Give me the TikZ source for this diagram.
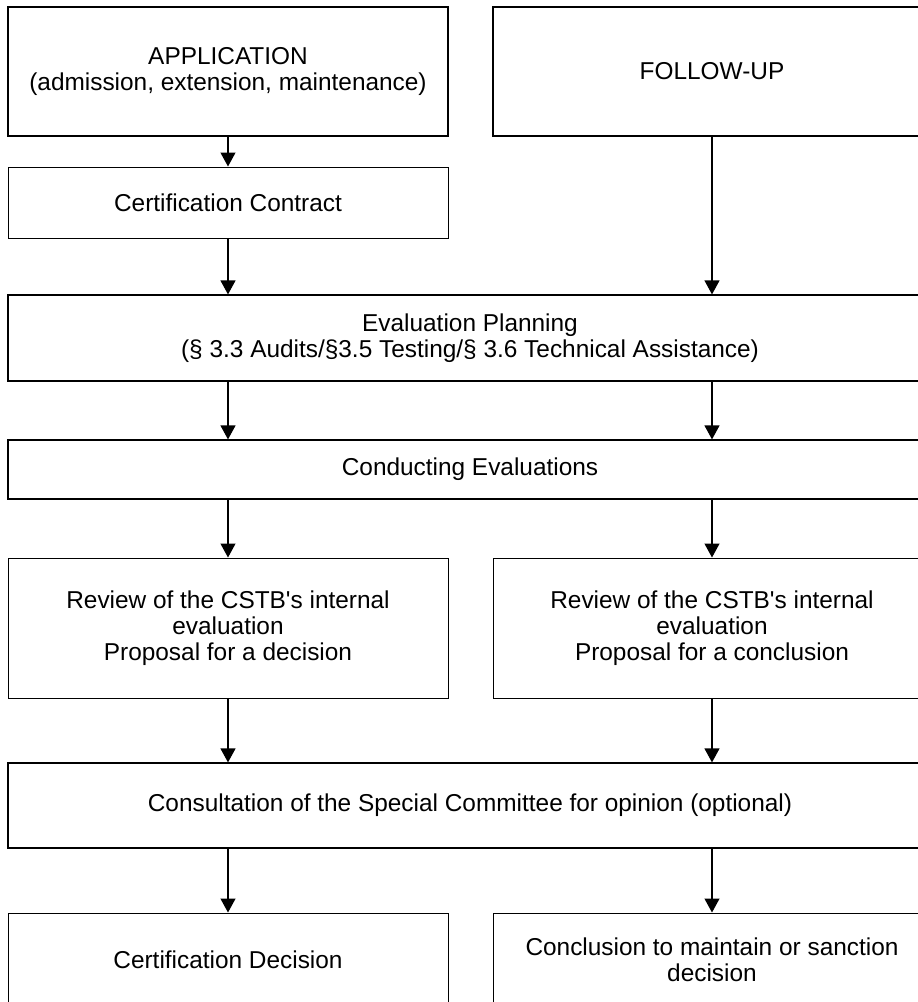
\documentclass[tikz,border=0pt]{standalone}
\usepackage{fontspec}
\setmainfont{Liberation Sans}
\usetikzlibrary{arrows.meta}
\tikzset{
  box/.style={draw, line width=1.2pt, inner sep=0pt, align=center, anchor=center,
    font=\fontsize{24.4}{26}\selectfont},
  thinbox/.style={box, line width=1pt},
  arr/.style={line width=1.2pt, -{Triangle[width=15pt,length=14pt]}}
}
\begin{document}
\begin{tikzpicture}[x=1pt,y=-1pt]
\useasboundingbox (0,0) rectangle (918,1002);
\clip (0,0) rectangle (918,1002);
\fill[white] (0,0) rectangle (918,1002);
\coordinate (L) at (228,0);
\coordinate (R) at (712,0);
\node[box, minimum width=440pt, minimum height=129pt] (app) at (228,71.5) {APPLICATION\\(admission, extension, maintenance)};
\node[box, minimum width=438pt, minimum height=129pt] (fu) at (712,71.5) {FOLLOW-UP};
\node[thinbox, minimum width=440pt, minimum height=71pt] (cc) at (228,202.5) {Certification Contract};
\node[box, minimum width=924pt, minimum height=86pt] (ep) at (470,338) {Evaluation Planning\\(§ 3.3 Audits/§3.5 Testing/§ 3.6 Technical Assistance)};
\node[box, minimum width=924pt, minimum height=59pt] (ce) at (470,469.5) {Conducting Evaluations};
\node[thinbox, minimum width=440pt, minimum height=140pt] (rl) at (228,628) {Review of the CSTB\textquotesingle s internal\\evaluation\\Proposal for a decision};
\node[thinbox, minimum width=438pt, minimum height=140pt] (rr) at (712,628) {Review of the CSTB\textquotesingle s internal\\evaluation\\Proposal for a conclusion};
\node[box, minimum width=924pt, minimum height=85pt] (cs) at (470,805.5) {Consultation of the Special Committee for opinion (optional)};
\node[thinbox, minimum width=440pt, minimum height=94pt] (dl) at (228,960) {Certification Decision};
\node[thinbox, minimum width=438pt, minimum height=94pt] (dr) at (712,960) {Conclusion to maintain or sanction\\decision};
\draw[arr] (app.south) -- (cc.north);
\draw[arr] (cc.south) -- (ep.north -| L);
\draw[arr] (fu.south) -- (ep.north -| R);
\draw[arr] (ep.south -| L) -- (ce.north -| L);
\draw[arr] (ep.south -| R) -- (ce.north -| R);
\draw[arr] (ce.south -| L) -- (rl.north);
\draw[arr] (ce.south -| R) -- (rr.north);
\draw[arr] (rl.south) -- (cs.north -| L);
\draw[arr] (rr.south) -- (cs.north -| R);
\draw[arr] (cs.south -| L) -- (dl.north);
\draw[arr] (cs.south -| R) -- (dr.north);
\end{tikzpicture}
\end{document}
